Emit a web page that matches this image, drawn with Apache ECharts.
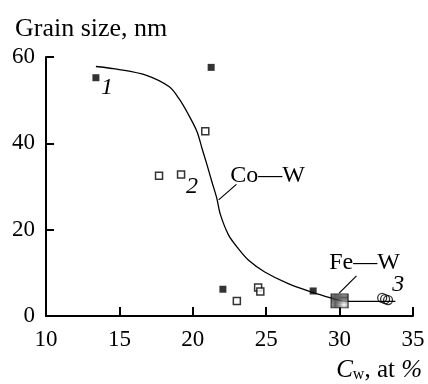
<!DOCTYPE html>
<html>
<head>
<meta charset="utf-8">
<script src="https://cdn.jsdelivr.net/npm/echarts@6/dist/echarts.min.js"></script>
<style>
  html, body { margin: 0; padding: 0; background: #fff; }
  #chart { width: 428px; height: 384px; }
</style>
</head>
<body>
<div id="chart"></div>
<script>
// Axis ticks
const xTicks = [10, 15, 20, 25, 30, 35];
const yTicks = [0, 20, 40, 60];

// Series 1: Co-W, filled squares
const coFilledX = [13.4, 21.25, 22.05, 28.2];
const coFilledY = [55.2, 57.6, 6.2, 5.8];

// Series 2: Co-W, open squares
const coOpenX = [17.7, 19.2, 20.85, 23.0, 24.45, 24.6];
const coOpenY = [32.5, 32.8, 42.8, 3.5, 6.6, 5.7];

// Series 3: Fe-W, open circles
const feCircX = [32.9, 33.1, 33.3];
const feCircY = [4.2, 3.9, 3.7];

// Fe-W reference sample (hatched square)
const feSquareX = [30.0];
const feSquareY = [3.5];

// Trend curve
const curveX = [13.4, 15.0, 16.8, 18.4, 19.05, 19.73, 20.29, 20.63, 20.97, 21.3, 21.64, 21.87, 22.43, 23.1, 23.8, 24.9, 26.5, 28.06, 29.4, 30.2, 31.0, 33.8];
const curveY = [57.8, 57.1, 55.8, 53.1, 50.4, 46.5, 42.7, 38.8, 35.0, 31.1, 27.2, 23.6, 18.8, 15.6, 12.9, 10.2, 7.5, 5.6, 4.2, 3.5, 3.4, 3.4];

const zip = (xs, ys) => xs.map((x, i) => [x, ys[i]]);

const FONT = '"Liberation Serif", "DejaVu Serif", serif';

// Small tile used to fill the hatched marker
function hatchTile() {
  const c = document.createElement('canvas');
  c.width = 4; c.height = 4;
  const g = c.getContext('2d');
  g.fillStyle = '#383838';
  g.fillRect(0, 0, 4, 4);
  g.fillStyle = '#ffffff';
  g.fillRect(0, 0, 1, 1);
  g.fillRect(2, 2, 1, 1);
  g.fillStyle = '#d8d8d8';
  g.fillRect(2, 0, 1, 1);
  g.fillRect(0, 2, 1, 1);
  return c;
}

const chart = echarts.init(document.getElementById('chart'), null, { renderer: 'canvas' });

const option = {
  animation: false,
  backgroundColor: '#fff',
  grid: { left: 46, right: 15, top: 57, bottom: 68 },
  xAxis: {
    type: 'value',
    min: xTicks[0], max: xTicks[xTicks.length - 1], interval: 5,
    axisLine: { lineStyle: { color: '#000', width: 2 } },
    axisTick: { inside: true, length: 9, lineStyle: { color: '#000', width: 2 } },
    splitLine: { show: false },
    axisLabel: { color: '#000', fontFamily: FONT, fontSize: 23, margin: 12 }
  },
  yAxis: {
    type: 'value',
    min: yTicks[0], max: yTicks[yTicks.length - 1], interval: 20,
    axisLine: { show: true, lineStyle: { color: '#000', width: 2 } },
    axisTick: { show: true, inside: true, length: 8, lineStyle: { color: '#000', width: 2 } },
    splitLine: { show: false },
    axisLabel: { color: '#000', fontFamily: FONT, fontSize: 23, margin: 11 }
  },
  title: {
    text: 'Grain size, nm',
    left: 10, top: 11,
    textStyle: { fontFamily: FONT, fontSize: 26, fontWeight: 'normal', color: '#000' }
  },
  series: [
    {
      name: 'curve', type: 'line', data: zip(curveX, curveY),
      smooth: 0.3, symbol: 'none',
      lineStyle: { color: '#000', width: 1.3 }, z: 2
    },
    {
      name: 'Co-W filled', type: 'scatter', data: zip(coFilledX, coFilledY),
      symbol: 'rect', symbolSize: 7,
      itemStyle: { color: '#000' }, z: 3
    },
    {
      name: 'Co-W open', type: 'scatter', data: zip(coOpenX, coOpenY),
      symbol: 'rect', symbolSize: 7,
      itemStyle: { color: '#fff', borderColor: '#000', borderWidth: 1.5 }, z: 3
    },
    {
      name: 'Fe-W circles', type: 'scatter', data: zip(feCircX, feCircY),
      symbol: 'circle', symbolSize: 9,
      itemStyle: { color: 'rgba(255,255,255,0)', borderColor: '#000', borderWidth: 1.3 }, z: 3
    },
    {
      name: 'Fe-W square', type: 'scatter', data: zip(feSquareX, feSquareY),
      symbol: 'rect', symbolSize: [17, 14],
      itemStyle: { color: { image: hatchTile(), repeat: 'repeat' }, borderColor: '#000', borderWidth: 1 }, z: 4
    }
  ]
};

chart.setOption(option);

// Annotations anchored in data units
const P = (x, y) => chart.convertToPixel({ gridIndex: 0 }, [x, y]);
const italic = { fontFamily: FONT, fontSize: 24, fontStyle: 'italic', fill: '#000' };
const plain = { fontFamily: FONT, fontSize: 24, fill: '#000' };

function textAt(str, pt, style, align, vAlign) {
  return { type: 'text', x: pt[0], y: pt[1], z: 10,
    style: Object.assign({ text: str, align: align || 'center', verticalAlign: vAlign || 'middle' }, style) };
}
function lineBetween(a, b) {
  return { type: 'line', z: 10, shape: { x1: a[0], y1: a[1], x2: b[0], y2: b[1] },
    style: { stroke: '#000', lineWidth: 1.2 } };
}

const gr = [
  textAt('1', P(14.15, 52.9), italic),
  textAt('2', P(19.95, 29.9), italic),
  textAt('3', P(34.0, 7.2), italic),
  lineBetween(P(21.76, 26.9), P(22.97, 30.5)),
  textAt('Co—W', P(22.55, 32.4), plain, 'left'),
  lineBetween(P(29.97, 5.3), P(31.15, 9.3)),
  textAt('Fe—W', P(31.7, 12.3), plain, 'center'),
  {
    type: 'text', z: 10, x: 422, y: 370,
    style: {
      text: '{c|C}{s|w}{n|, at }{p|%}', align: 'right', verticalAlign: 'middle',
      rich: {
        c: { fontFamily: FONT, fontSize: 25, fontStyle: 'italic', fill: '#000' },
        s: { fontFamily: FONT, fontSize: 16, fill: '#000', padding: [10, 0, 0, 0] },
        n: { fontFamily: FONT, fontSize: 25, fill: '#000' },
        p: { fontFamily: FONT, fontSize: 25, fontStyle: 'italic', fill: '#000' }
      }
    }
  }
];
chart.setOption({ graphic: gr });
</script>
</body>
</html>
